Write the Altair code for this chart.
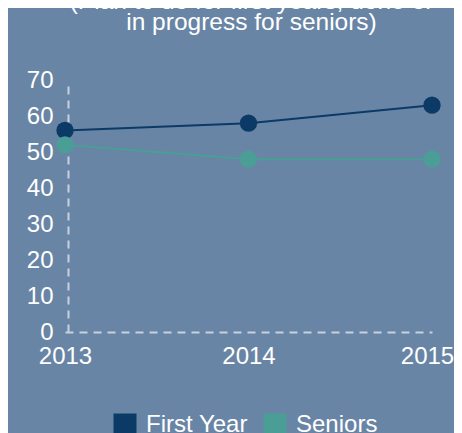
import altair as alt
import pandas as pd

years = [2013, 2014, 2015]
first_year = [56, 58, 63]
seniors = [52, 48, 48]
series_names = ["First Year", "Seniors"]
series_colors = ["#0B3A67", "#4A9E96"]
y_ticks = [0, 10, 20, 30, 40, 50, 60, 70]
title_lines = ["(Plan to do for first years, done or", "in progress for seniors)"]

rows = []
for name, vals in zip(series_names, [first_year, seniors]):
    for yr, v in zip(years, vals):
        rows.append({"Year": str(yr), "Series": name, "Value": v})
df = pd.DataFrame(rows)

FONT = "Liberation Sans"
BG = "#6985A5"
AXIS_COL = "#C8D1DD"

x = alt.X(
    "Year:O",
    scale=alt.Scale(type="point", padding=0, domain=[str(v) for v in years]),
    axis=alt.Axis(title=None, grid=False, labelAngle=0,
                  domainDash=[8, 6], domainColor=AXIS_COL, domainWidth=2,
                  ticks=False, labelPadding=12, labelFontSize=24,
                  labelColor="white", labelFont=FONT, labelFlush=False,
                  labelOverlap=False, labelBound=False,
                  labelOffset=alt.condition("datum.label == '2015'",
                                            alt.value(-5), alt.value(0))),
)
y = alt.Y(
    "Value:Q",
    scale=alt.Scale(domain=[0, 70], nice=False),
    axis=alt.Axis(values=y_ticks, title=None, grid=False,
                  domainDash=[8, 6], domainColor=AXIS_COL, domainWidth=2,
                  ticks=False, labelPadding=15, offset=-3, labelFontSize=24,
                  labelColor="white", labelFont=FONT, labelOverlap=False),
)
color = alt.Color(
    "Series:N",
    scale=alt.Scale(domain=series_names, range=series_colors),
    legend=alt.Legend(title=None, orient="none", direction="horizontal",
                      legendX=48, legendY=333, symbolType="square",
                      symbolSize=529, symbolStrokeWidth=0, symbolOpacity=1,
                      labelFontSize=24, labelFont=FONT, labelColor="white",
                      labelOffset=9, columnPadding=15, padding=0),
)

base = alt.Chart(df).encode(x=x, y=y, color=color)
lines = base.mark_line(strokeWidth=2)
points = base.mark_circle(size=300, opacity=1)

chart = (lines + points).properties(
    width=367,
    height=252,
    title=alt.Title(text=title_lines, fontSize=24.5, font=FONT, color="white",
                    fontWeight="normal", lineHeight=21, anchor="middle",
                    baseline="alphabetic", offset=14, dx=3),
    background=BG,
    padding={"left": 57, "right": 22, "top": 72, "bottom": 101},
    autosize="none",
).configure_view(strokeWidth=0)

chart.save("out.html", embed_options={"renderer": "svg", "actions": False})
